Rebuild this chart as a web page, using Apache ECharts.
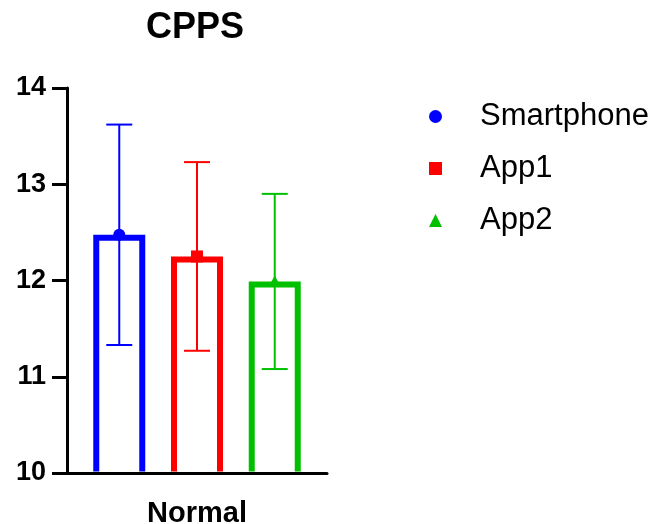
<!DOCTYPE html>
<html>
<head>
<meta charset="utf-8">
<script src="https://cdn.jsdelivr.net/npm/echarts@6/dist/echarts.min.js"></script>
<style>
  html, body { margin: 0; padding: 0; background: #fff; }
  #chart { width: 653px; height: 524px; }
</style>
</head>
<body>
<div id="chart"></div>
<script>
// CPPS by input method, mean ± SD
const categories = ['Normal'];
const groupNames = ['Smartphone', 'App1', 'App2'];
const groupMeans = [12.475, 12.25, 11.99];
const groupSD = [1.145, 0.98, 0.91];
const groupColors = ['#0000FF', '#FF0000', '#00C000'];
const groupIcons = ['circle', 'rect', 'triangle'];
const yTicks = { min: 10, max: 14, step: 1 };

const FONT = '"Liberation Sans", Arial, sans-serif';

function makeRenderer(gi) {
  return function (params, api) {
    const cat = api.value(0);
    const mean = api.value(1);
    const sd = api.value(2);
    const color = groupColors[gi];
    const base = api.coord([cat, yTicks.min]);
    const top = api.coord([cat, mean]);
    const hi = api.coord([cat, mean + sd]);
    const lo = api.coord([cat, mean - sd]);
    const band = api.size([1, 0])[0];
    const cx = base[0] + (gi - 1) * band * 0.299;
    const half = 23;
    const stroke = 6;
    const topY = top[1] + stroke / 2;
    const bottomY = base[1] - 1.5;
    const children = [
      {
        type: 'polyline',
        shape: { points: [[cx - half, bottomY], [cx - half, topY], [cx + half, topY], [cx + half, bottomY]] },
        style: { stroke: color, lineWidth: stroke, fill: null, lineJoin: 'miter', lineCap: 'butt' }
      },
      {
        type: 'line',
        shape: { x1: cx, y1: hi[1], x2: cx, y2: lo[1] },
        style: { stroke: color, lineWidth: 2 }
      },
      {
        type: 'line',
        shape: { x1: cx - 13, y1: hi[1], x2: cx + 13, y2: hi[1] },
        style: { stroke: color, lineWidth: 2 }
      },
      {
        type: 'line',
        shape: { x1: cx - 13, y1: lo[1], x2: cx + 13, y2: lo[1] },
        style: { stroke: color, lineWidth: 2 }
      }
    ];
    const my = top[1];
    if (groupIcons[gi] === 'circle') {
      children.push({ type: 'circle', shape: { cx: cx, cy: my, r: 6 }, style: { fill: color } });
    } else if (groupIcons[gi] === 'rect') {
      children.push({ type: 'rect', shape: { x: cx - 6, y: my - 6, width: 12, height: 12 }, style: { fill: color } });
    } else {
      children.push({ type: 'polygon', shape: { points: [[cx, my - 6], [cx + 6, my + 5], [cx - 6, my + 5]] }, style: { fill: color } });
    }
    return { type: 'group', children: children };
  };
}

const chart = echarts.init(document.getElementById('chart'), null, { renderer: 'canvas' });

chart.setOption({
  animation: false,
  backgroundColor: '#ffffff',
  title: {
    text: 'CPPS',
    left: 141,
    top: 5,
    textStyle: { fontFamily: FONT, fontSize: 36, fontWeight: 'bold', color: '#000' }
  },
  legend: {
    orient: 'vertical',
    left: 424,
    top: 96,
    itemWidth: 13,
    itemHeight: 13,
    itemGap: 21,
    selectedMode: false,
    textStyle: { fontFamily: FONT, fontSize: 31, color: '#000', lineHeight: 30, padding: [0, 0, 0, 33] },
    data: groupNames.map((n, i) => ({ name: n, icon: groupIcons[i] }))
  },
  grid: { left: 67, right: 326, top: 88, bottom: 51, containLabel: false, outerBoundsMode: 'none' },
  xAxis: {
    type: 'category',
    data: categories,
    z: 5,
    axisLine: { lineStyle: { color: '#000', width: 3 } },
    axisTick: { alignWithLabel: true, length: 15, lineStyle: { color: '#000', width: 3 } },
    axisLabel: { fontFamily: FONT, fontSize: 29, fontWeight: 'bold', color: '#000', margin: 26 }
  },
  yAxis: {
    type: 'value',
    min: yTicks.min,
    max: yTicks.max,
    interval: yTicks.step,
    z: 5,
    splitLine: { show: false },
    axisLine: { show: true, lineStyle: { color: '#000', width: 3 } },
    axisTick: { show: true, length: 15, lineStyle: { color: '#000', width: 3 } },
    axisLabel: { fontFamily: FONT, fontSize: 27, fontWeight: 'bold', color: '#000', margin: 21, padding: [4, 0, 0, 0] }
  },
  series: groupNames.map((name, gi) => ({
    name: name,
    type: 'custom',
    renderItem: makeRenderer(gi),
    itemStyle: { color: groupColors[gi] },
    encode: { x: 0, y: 1 },
    data: categories.map((c, ci) => [ci, groupMeans[gi], groupSD[gi]])
  }))
});
</script>
</body>
</html>
